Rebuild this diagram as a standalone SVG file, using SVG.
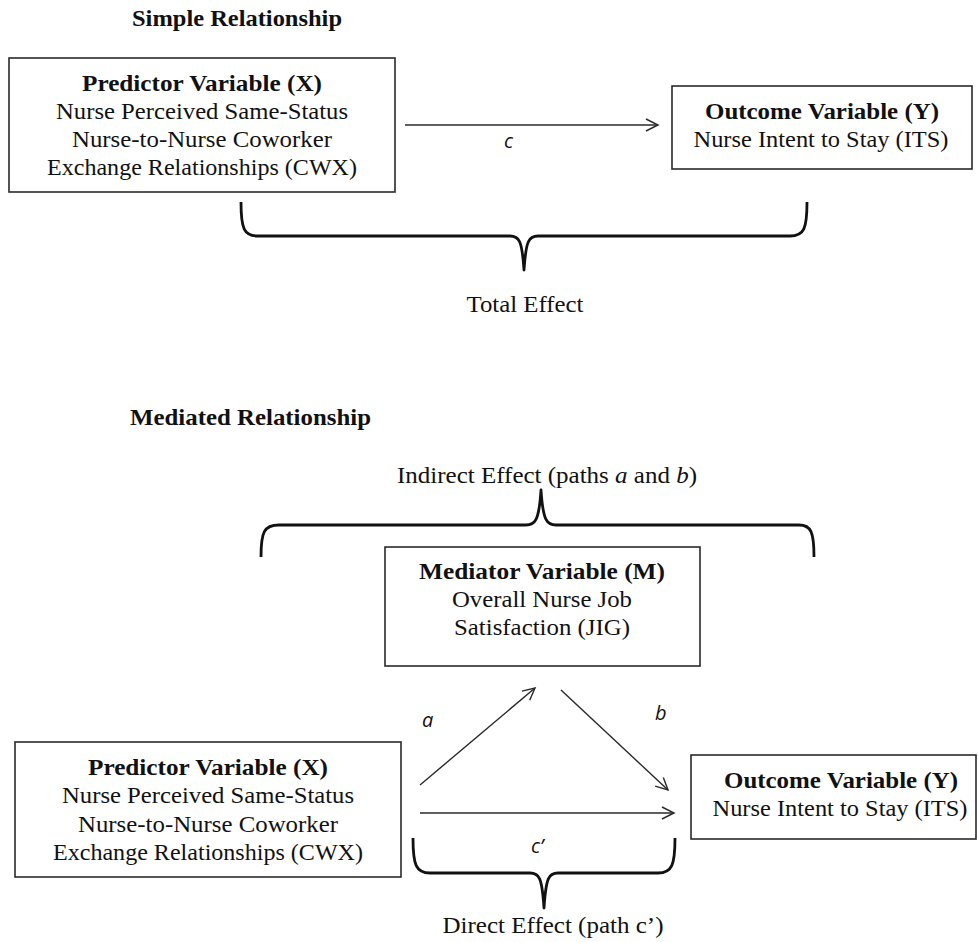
<svg xmlns="http://www.w3.org/2000/svg" width="978" height="942" viewBox="0 0 978 942">
<style>
  .t { font-family: "Liberation Serif", "Times New Roman", serif; font-size: 23px; fill: #111; }
  .b { font-weight: bold; }
  .m { text-anchor: middle; }
  .lab { font-family: "Open Sans", "Noto Sans", sans-serif; font-style: italic; font-size: 20px; fill: #111; }
  .box { fill: #fff; stroke: #2a2a2a; stroke-width: 1.6; }
  .arr { fill: none; stroke: #2a2a2a; stroke-width: 1.4; marker-end: url(#ah); }
  .brace { fill: none; stroke: #111; stroke-width: 2.8; stroke-linejoin: round; }
</style>
<defs>
  <marker id="ah" markerUnits="userSpaceOnUse" markerWidth="16" markerHeight="16" refX="13" refY="7" orient="auto">
    <path d="M1,1 L13,7 L1,13" fill="none" stroke="#2a2a2a" stroke-width="1.4"/>
  </marker>
</defs>
<rect width="978" height="942" fill="#fff"/>

<text class="t b" x="132" y="26" textLength="210" lengthAdjust="spacingAndGlyphs">Simple Relationship</text>
<text class="t b" x="130" y="425" textLength="241" lengthAdjust="spacingAndGlyphs">Mediated Relationship</text>

<g id="predictor1">
  <rect class="box" x="9" y="58" width="386" height="134"/>
  <text class="t b m" x="202" y="91" textLength="240" lengthAdjust="spacingAndGlyphs">Predictor Variable (X)</text>
  <text class="t m" x="202" y="119" textLength="292" lengthAdjust="spacingAndGlyphs">Nurse Perceived Same-Status</text>
  <text class="t m" x="202" y="147" textLength="260" lengthAdjust="spacingAndGlyphs">Nurse-to-Nurse Coworker</text>
  <text class="t m" x="202" y="175" textLength="310" lengthAdjust="spacingAndGlyphs">Exchange Relationships (CWX)</text>
</g>

<g id="outcome1">
  <rect class="box" x="672" y="86" width="300" height="83"/>
  <text class="t b m" x="822" y="119" textLength="234" lengthAdjust="spacingAndGlyphs">Outcome Variable (Y)</text>
  <text class="t m" x="821" y="147" textLength="255" lengthAdjust="spacingAndGlyphs">Nurse Intent to Stay (ITS)</text>
</g>

<g id="total-effect">
  <path class="brace" d="M241,202 C241,229 244,236 258,236 L510,236 C519,236 522,240 524,270 C526,240 529,236 538,236 L790,236 C804,236 807,229 807,202"/>
  <text class="t m" x="525" y="312" textLength="117" lengthAdjust="spacingAndGlyphs">Total Effect</text>
</g>

<g id="mediator">
  <rect class="box" x="385" y="547" width="315" height="119"/>
  <text class="t b m" x="542" y="579" textLength="246" lengthAdjust="spacingAndGlyphs">Mediator Variable (M)</text>
  <text class="t m" x="542" y="607" textLength="180" lengthAdjust="spacingAndGlyphs">Overall Nurse Job</text>
  <text class="t m" x="542" y="635" textLength="176" lengthAdjust="spacingAndGlyphs">Satisfaction (JIG)</text>
</g>

<g id="indirect-effect">
  <text class="t m" x="547" y="483" textLength="300" lengthAdjust="spacingAndGlyphs">Indirect Effect (paths <tspan font-style="italic">a</tspan> and <tspan font-style="italic">b</tspan>)</text>
  <path class="brace" d="M261,557 C261,532 264,525 279,525 L526,525 C535,525 539,521 541,490 C543,521 547,525 556,525 L799,525 C811,525 814,532 814,557"/>
</g>

<g id="predictor2">
  <rect class="box" x="15" y="742" width="386" height="135"/>
  <text class="t b m" x="208" y="775" textLength="240" lengthAdjust="spacingAndGlyphs">Predictor Variable (X)</text>
  <text class="t m" x="208" y="803" textLength="292" lengthAdjust="spacingAndGlyphs">Nurse Perceived Same-Status</text>
  <text class="t m" x="208" y="832" textLength="260" lengthAdjust="spacingAndGlyphs">Nurse-to-Nurse Coworker</text>
  <text class="t m" x="208" y="860" textLength="310" lengthAdjust="spacingAndGlyphs">Exchange Relationships (CWX)</text>
</g>

<g id="outcome2">
  <rect class="box" x="691" y="755" width="285" height="84"/>
  <text class="t b m" x="841" y="788" textLength="234" lengthAdjust="spacingAndGlyphs">Outcome Variable (Y)</text>
  <text class="t m" x="840" y="816" textLength="255" lengthAdjust="spacingAndGlyphs">Nurse Intent to Stay (ITS)</text>
</g>

<g id="direct-effect">
  <path class="brace" d="M413,838 C413,865 416,873 430,873 L530,873 C539,873 542,877 544,908 C546,877 549,873 558,873 L658,873 C672,873 675,865 675,838"/>
  <text class="t m" x="553" y="933" textLength="221" lengthAdjust="spacingAndGlyphs">Direct Effect (path c’)</text>
</g>

<g id="connectors">
  <line class="arr" x1="405" y1="125" x2="658" y2="125"/>
  <line class="arr" x1="420" y1="785" x2="535" y2="688"/>
  <line class="arr" x1="561" y1="690" x2="668" y2="790"/>
  <line class="arr" x1="420" y1="813" x2="674" y2="813"/>
  <text class="lab" x="504" y="148">c</text>
  <text class="lab" x="422" y="727">a</text>
  <text class="lab" x="655" y="720">b</text>
  <text class="lab" x="531" y="853">c’</text>
</g>
</svg>
